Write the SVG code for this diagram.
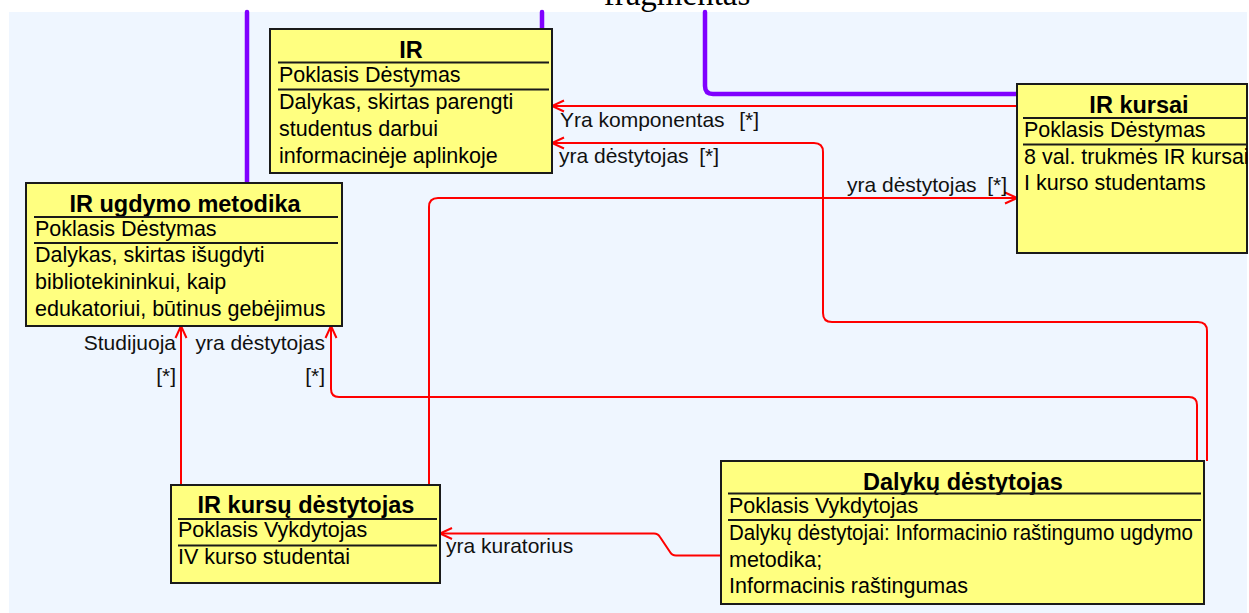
<svg xmlns="http://www.w3.org/2000/svg" width="1249" height="613" viewBox="0 0 1249 613">
<style>
.bg{fill:#EFF6FF}
.box{fill:#FFFF80;stroke:#1A1A1A;stroke-width:2}
.sep{stroke:#1A1A1A;stroke-width:1.8}
.ttl{font-family:"Liberation Sans",Arial,sans-serif;font-weight:bold;font-size:23.5px;fill:#000;text-anchor:middle}
.txt{font-family:"Liberation Sans",Arial,sans-serif;font-size:21.5px;fill:#000}
.lbl{font-family:"Liberation Sans",Arial,sans-serif;font-size:21px;fill:#111}
.end{text-anchor:end}
.pur{fill:none;stroke:#8000FF;stroke-width:4.5;stroke-linecap:round}
.red{fill:none;stroke:#FF0000;stroke-width:2}
.arr{marker-end:url(#open)}
</style>
<defs>
<marker id="open" markerUnits="userSpaceOnUse" markerWidth="16" markerHeight="14" refX="13" refY="7" orient="auto" viewBox="0 0 16 14">
<path d="M1,1.5 L13,7 L1,12.5" fill="none" stroke="#FF0000" stroke-width="2"/>
</marker>
</defs>
<rect x="0" y="0" width="1249" height="613" fill="#FFFFFF"/>
<rect class="bg" x="9" y="12" width="1238" height="601"/>
<text x="677" y="5" font-family="'Liberation Serif','Times New Roman',serif" font-size="33" text-anchor="middle" fill="#000">fragmentas</text>

<g id="connectors">
<path class="pur" d="M247,12 V183"/>
<path class="pur" d="M542,12 V31"/>
<path class="pur" d="M705,12 V86 Q705,94 713,94 H1017"/>
<path class="red arr" d="M1017,106 H552"/>
<path class="red arr" d="M1207,461 V331 Q1207,322 1198,322 H832 Q823,322 823,313 V152 Q823,143 814,143 H552"/>
<path class="red arr" d="M429,485 V207 Q429,198 438,198 H1017"/>
<path class="red arr" d="M181,485 V326"/>
<path class="red arr" d="M1197,461 V405 Q1197,397 1189,397 H339 Q331,397 331,389 V326"/>
<path class="red arr" d="M721,555.5 H676 Q672,555.5 670,552 L660,537 Q658,533.5 654,533.5 H440"/>
<text class="lbl" x="560" y="127">Yra komponentas</text>
<text class="lbl end" x="759" y="127">[*]</text>
<text class="lbl" x="559" y="163">yra dėstytojas</text>
<text class="lbl end" x="719" y="163">[*]</text>
<text class="lbl" x="847" y="192">yra dėstytojas</text>
<text class="lbl end" x="1007" y="192">[*]</text>
<text class="lbl end" x="176" y="350">Studijuoja</text>
<text class="lbl end" x="176" y="383">[*]</text>
<text class="lbl end" x="325" y="350">yra dėstytojas</text>
<text class="lbl end" x="325" y="383">[*]</text>
<text class="lbl" x="446" y="553">yra kuratorius</text>
</g>

<g id="node-ir">
<rect class="box" x="270" y="29" width="282" height="144"/>
<text class="ttl" x="411" y="58">IR</text>
<line class="sep" x1="278" y1="62.5" x2="549" y2="62.5"/>
<text class="txt" x="279" y="82">Poklasis Dėstymas</text>
<line class="sep" x1="278" y1="89.5" x2="549" y2="89.5"/>
<text class="txt" x="279" y="109">Dalykas, skirtas parengti</text>
<text class="txt" x="279" y="136">studentus darbui</text>
<text class="txt" x="279" y="163">informacinėje aplinkoje</text>
</g>

<g id="node-ir-ugdymo-metodika">
<rect class="box" x="26" y="183" width="316" height="143"/>
<text class="ttl" x="185" y="212">IR ugdymo metodika</text>
<line class="sep" x1="34" y1="217" x2="338" y2="217"/>
<text class="txt" x="35" y="236">Poklasis Dėstymas</text>
<line class="sep" x1="34" y1="243" x2="338" y2="243"/>
<text class="txt" x="35" y="262">Dalykas, skirtas išugdyti</text>
<text class="txt" x="35" y="289">bibliotekininkui, kaip</text>
<text class="txt" x="35" y="316">edukatoriui, būtinus gebėjimus</text>
</g>

<g id="node-ir-kursai">
<rect class="box" x="1017" y="84" width="230" height="169"/>
<text class="ttl" x="1139" y="113">IR kursai</text>
<line class="sep" x1="1023" y1="118" x2="1247" y2="118"/>
<text class="txt" x="1024" y="137">Poklasis Dėstymas</text>
<line class="sep" x1="1023" y1="144.5" x2="1247" y2="144.5"/>
<text class="txt" x="1024" y="164">8 val. trukmės IR kursai</text>
<text class="txt" x="1024" y="190">I kurso studentams</text>
</g>

<g id="node-ir-kursu-destytojas">
<rect class="box" x="171" y="485" width="269" height="98"/>
<text class="ttl" x="306" y="512.5">IR kursų dėstytojas</text>
<line class="sep" x1="178" y1="519" x2="437" y2="519"/>
<text class="txt" x="178" y="537">Poklasis Vykdytojas</text>
<line class="sep" x1="178" y1="545.5" x2="437" y2="545.5"/>
<text class="txt" x="178" y="564">IV kurso studentai</text>
</g>

<g id="node-dalyku-destytojas">
<rect class="box" x="721" y="461" width="483" height="143"/>
<text class="ttl" x="963" y="489.5">Dalykų dėstytojas</text>
<line class="sep" x1="728" y1="493.5" x2="1201" y2="493.5"/>
<text class="txt" x="729" y="513">Poklasis Vykdytojas</text>
<line class="sep" x1="728" y1="520" x2="1201" y2="520"/>
<text class="txt" x="729" y="540" textLength="464" lengthAdjust="spacingAndGlyphs">Dalykų dėstytojai: Informacinio raštingumo ugdymo</text>
<text class="txt" x="729" y="566.5">metodika;</text>
<text class="txt" x="729" y="593">Informacinis raštingumas</text>
</g>
</svg>
